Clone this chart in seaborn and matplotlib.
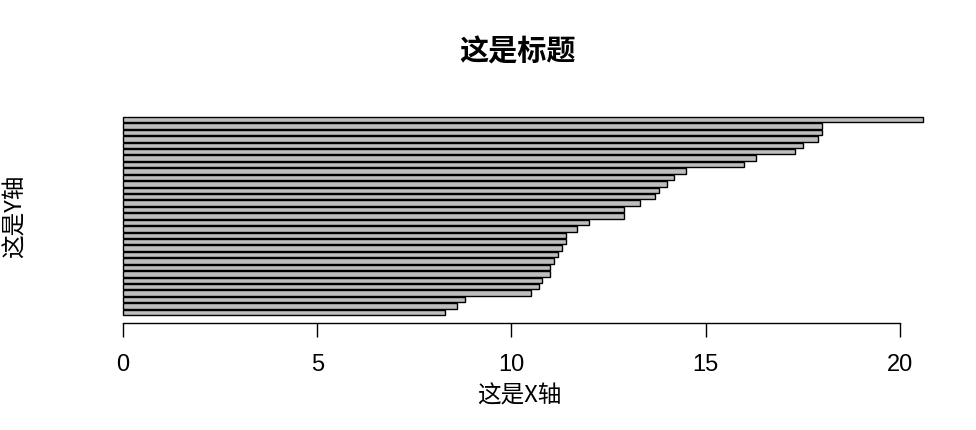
import matplotlib
matplotlib.use("Agg")
import matplotlib.pyplot as plt
import seaborn as sns
import pandas as pd

# trees$Girth, bottom bar first
values = [8.3, 8.6, 8.8, 10.5, 10.7, 10.8, 11.0, 11.0, 11.1, 11.2, 11.3, 11.4,
          11.4, 11.7, 12.0, 12.9, 12.9, 13.3, 13.7, 13.8, 14.0, 14.2, 14.5,
          16.0, 16.3, 17.3, 17.5, 17.9, 18.0, 18.0, 20.6]
labels = [str(i + 1) for i in range(len(values))]
x_ticks = [0, 5, 10, 15, 20]
title = "这是标题"
xlabel = "这是X轴"
ylabel = "这是Y轴"

sns.set_style("white")
plt.rcParams['font.family'] = ['Noto Sans CJK SC', 'DejaVu Sans']
plt.rcParams['text.color'] = 'black'
plt.rcParams['xtick.color'] = 'black'
plt.rcParams['xtick.labelcolor'] = 'black'

df = pd.DataFrame({"lab": labels, "val": values})
order = labels[::-1]  # top-to-bottom in seaborn

fig = plt.figure(figsize=(9.76, 4.3), dpi=100)
ax = fig.add_axes([91 / 976, 1 - 323 / 430, (955 - 91) / 976, (323 - 109) / 430])

sns.barplot(data=df, x="val", y="lab", order=order, orient="h",
            color="#bebebe", saturation=1, width=1 / 1.2,
            edgecolor="black", linewidth=1.0, ax=ax)

n = len(values)
ax.set_xlim(-0.824, 21.424)
ax.set_ylim(n - 1 + 1.65, -1.65)
for s in ["top", "right", "left"]:
    ax.spines[s].set_visible(False)
ax.spines["bottom"].set_bounds(0, 20)
ax.spines["bottom"].set_color("black")
ax.spines["bottom"].set_linewidth(1.0)
ax.set_yticks([])
ax.set_xticks(x_ticks)
ax.set_xticklabels([str(t) for t in x_ticks], family=["Liberation Sans"],
                   fontsize=17, color="black")
ax.tick_params(axis="x", direction="out", length=10, width=1.0, color="black",
               labelcolor="black", pad=12, bottom=True)
ax.set_xlabel("")
ax.set_ylabel("")

fig.text(518 / 976, 1 - 51 / 430, title, ha="center", va="center",
         fontsize=21, fontweight="bold", color="black")
fig.text(519 / 976, 1 - 396 / 430, xlabel, ha="center", va="center",
         fontsize=17, color="black")
fig.text(15 / 976, 1 - 216 / 430, ylabel, ha="center", va="center", fontsize=17,
         rotation=90, color="black")

fig.savefig("out.png", dpi=100)
